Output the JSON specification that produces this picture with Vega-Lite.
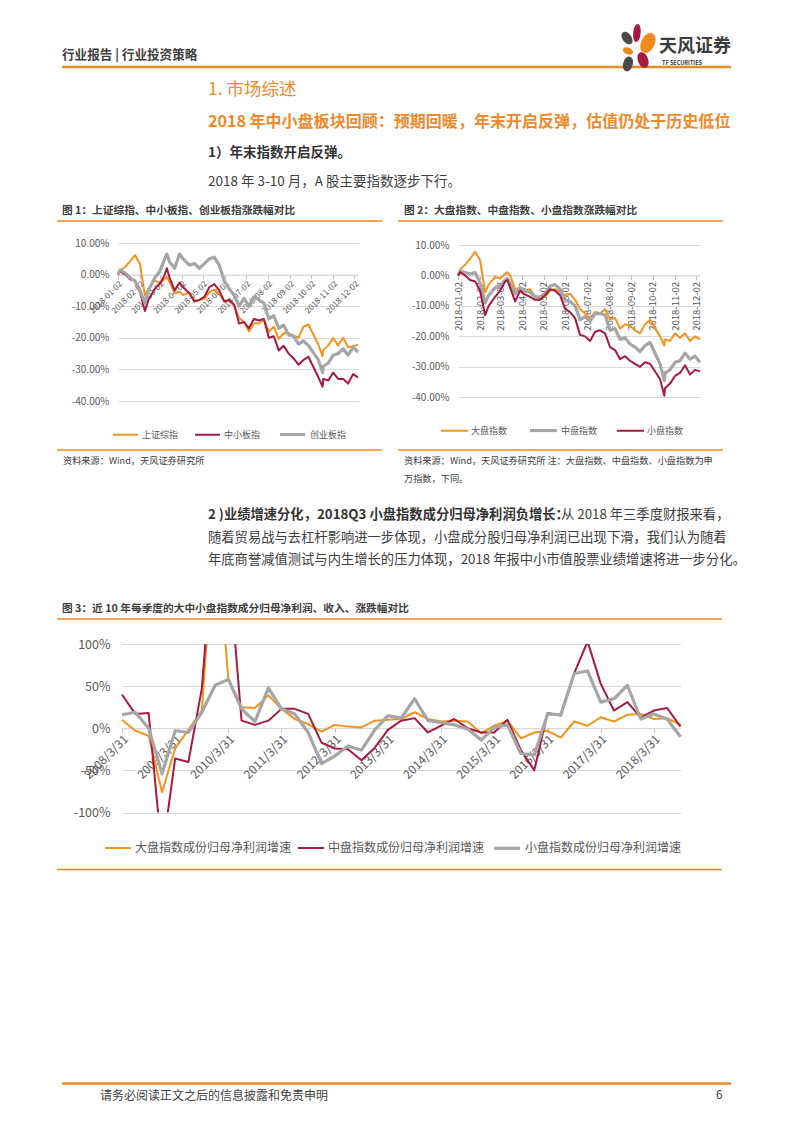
{
  "$schema": "https://vega.github.io/schema/vega-lite/v6.json",
  "padding": 0,
  "background": "#ffffff",
  "spacing": 0,
  "bounds": "flush",
  "resolve": {
    "scale": {"color": "independent", "strokeWidth": "independent"},
    "legend": {"color": "independent", "strokeWidth": "independent"}
  },
  "config": {
    "font": "Noto Sans CJK SC",
    "view": {"stroke": null},
    "axis": {"labelFont": "Noto Sans CJK SC"},
    "legend": {"labelFont": "Noto Sans CJK SC"}
  },
  "datasets": {
    "c1": [
      {"d":"2018-01-02","上证综指":0,"中小板指":0,"创业板指":0},
      {"d":"2018-01-05","上证综指":0.013,"中小板指":0.010,"创业板指":0.015},
      {"d":"2018-01-12","上证综指":0.024,"中小板指":0.000,"创业板指":0.005},
      {"d":"2018-01-19","上证综指":0.042,"中小板指":-0.015,"创业板指":-0.010},
      {"d":"2018-01-26","上证综指":0.062,"中小板指":-0.020,"创业板指":-0.020},
      {"d":"2018-02-02","上证综指":0.034,"中小板指":-0.055,"创业板指":-0.050},
      {"d":"2018-02-09","上证综指":-0.066,"中小板指":-0.115,"创业板指":-0.090},
      {"d":"2018-02-14","上证综指":-0.045,"中小板指":-0.080,"创业板指":-0.050},
      {"d":"2018-02-23","上证综指":-0.018,"中小板指":-0.045,"创业板指":-0.010},
      {"d":"2018-03-02","上证综指":-0.028,"中小板指":-0.030,"创业板指":0.010},
      {"d":"2018-03-09","上证综指":-0.013,"中小板指":0.000,"创业板指":0.050},
      {"d":"2018-03-12","上证综指":-0.007,"中小板指":0.020,"创业板指":0.065},
      {"d":"2018-03-16","上证综指":-0.024,"中小板指":-0.010,"创业板指":0.040},
      {"d":"2018-03-23","上证综指":-0.059,"中小板指":-0.050,"创业板指":0.020},
      {"d":"2018-03-30","上证综指":-0.054,"中小板指":-0.025,"创业板指":0.065},
      {"d":"2018-04-04","上证综指":-0.065,"中小板指":-0.040,"创业板指":0.050},
      {"d":"2018-04-13","上证综指":-0.057,"中小板指":-0.060,"创业板指":0.030},
      {"d":"2018-04-20","上证综指":-0.083,"中小板指":-0.085,"创业板指":0.035},
      {"d":"2018-04-27","上证综指":-0.080,"中小板指":-0.080,"创业板指":0.020},
      {"d":"2018-05-04","上证综指":-0.077,"中小板指":-0.070,"创业板指":0.035},
      {"d":"2018-05-11","上证综指":-0.056,"中小板指":-0.040,"创业板指":0.050},
      {"d":"2018-05-18","上证综指":-0.047,"中小板指":-0.030,"创业板指":0.055},
      {"d":"2018-05-25","上证综指":-0.062,"中小板指":-0.050,"创业板指":0.030},
      {"d":"2018-06-01","上证综指":-0.082,"中小板指":-0.085,"创业板指":-0.020},
      {"d":"2018-06-08","上证综指":-0.084,"中小板指":-0.080,"创业板指":-0.045},
      {"d":"2018-06-15","上证综指":-0.098,"中小板指":-0.095,"创业板指":-0.065},
      {"d":"2018-06-22","上证综指":-0.137,"中小板指":-0.155,"创业板指":-0.100},
      {"d":"2018-06-29","上证综指":-0.150,"中小板指":-0.150,"创业板指":-0.075},
      {"d":"2018-07-06","上证综指":-0.180,"中小板指":-0.170,"创业板指":-0.100},
      {"d":"2018-07-13","上证综指":-0.155,"中小板指":-0.140,"创业板指":-0.070},
      {"d":"2018-07-20","上证综指":-0.155,"中小板指":-0.145,"创业板指":-0.080},
      {"d":"2018-07-27","上证综指":-0.142,"中小板指":-0.140,"创业板指":-0.090},
      {"d":"2018-08-03","上证综指":-0.182,"中小板指":-0.200,"创业板指":-0.140},
      {"d":"2018-08-10","上证综指":-0.165,"中小板指":-0.195,"创业板指":-0.130},
      {"d":"2018-08-17","上证综指":-0.203,"中小板指":-0.240,"创业板指":-0.170},
      {"d":"2018-08-24","上证综指":-0.185,"中小板指":-0.225,"创业板指":-0.160},
      {"d":"2018-08-31","上证综指":-0.186,"中小板指":-0.250,"创业板指":-0.190},
      {"d":"2018-09-07","上证综指":-0.193,"中小板指":-0.265,"创业板指":-0.195},
      {"d":"2018-09-14","上证综指":-0.199,"中小板指":-0.285,"创业板指":-0.220},
      {"d":"2018-09-21","上证综指":-0.165,"中小板指":-0.270,"创业板指":-0.210},
      {"d":"2018-09-28","上证综指":-0.158,"中小板指":-0.260,"创业板指":-0.225},
      {"d":"2018-10-12","上证综指":-0.222,"中小板指":-0.325,"创业板指":-0.270},
      {"d":"2018-10-18","上证综指":-0.258,"中小板指":-0.355,"创业板指":-0.310},
      {"d":"2018-10-19","上证综指":-0.239,"中小板指":-0.330,"创业板指":-0.290},
      {"d":"2018-10-26","上证综指":-0.224,"中小板指":-0.335,"创业板指":-0.280},
      {"d":"2018-11-02","上证综指":-0.201,"中小板指":-0.310,"创业板指":-0.255},
      {"d":"2018-11-09","上证综指":-0.224,"中小板指":-0.330,"创业板指":-0.250},
      {"d":"2018-11-16","上证综指":-0.200,"中小板指":-0.330,"创业板指":-0.235},
      {"d":"2018-11-23","上证综指":-0.230,"中小板指":-0.345,"创业板指":-0.255},
      {"d":"2018-11-30","上证综指":-0.227,"中小板指":-0.315,"创业板指":-0.230},
      {"d":"2018-12-07","上证综指":-0.222,"中小板指":-0.325,"创业板指":-0.245}
    ],
    "c2": [
      {"d":"2018-01-02","大盘指数":0,"中盘指数":0,"小盘指数":0},
      {"d":"2018-01-05","大盘指数":0.020,"中盘指数":0.015,"小盘指数":0.010},
      {"d":"2018-01-12","大盘指数":0.035,"中盘指数":0.010,"小盘指数":0.000},
      {"d":"2018-01-19","大盘指数":0.055,"中盘指数":0.005,"小盘指数":-0.015},
      {"d":"2018-01-26","大盘指数":0.078,"中盘指数":0.010,"小盘指数":-0.020},
      {"d":"2018-02-02","大盘指数":0.050,"中盘指数":-0.025,"小盘指数":-0.050},
      {"d":"2018-02-09","大盘指数":-0.055,"中盘指数":-0.090,"小盘指数":-0.130},
      {"d":"2018-02-14","大盘指数":-0.030,"中盘指数":-0.065,"小盘指数":-0.100},
      {"d":"2018-02-23","大盘指数":-0.005,"中盘指数":-0.040,"小盘指数":-0.070},
      {"d":"2018-03-02","大盘指数":-0.010,"中盘指数":-0.035,"小盘指数":-0.050},
      {"d":"2018-03-09","大盘指数":0.005,"中盘指数":-0.015,"小盘指数":-0.020},
      {"d":"2018-03-12","大盘指数":0.010,"中盘指数":-0.010,"小盘指数":-0.015},
      {"d":"2018-03-16","大盘指数":0.000,"中盘指数":-0.025,"小盘指数":-0.040},
      {"d":"2018-03-23","大盘指数":-0.045,"中盘指数":-0.060,"小盘指数":-0.085},
      {"d":"2018-03-30","大盘指数":-0.040,"中盘指数":-0.040,"小盘指数":-0.050},
      {"d":"2018-04-04","大盘指数":-0.050,"中盘指数":-0.050,"小盘指数":-0.060},
      {"d":"2018-04-13","大盘指数":-0.045,"中盘指数":-0.055,"小盘指数":-0.070},
      {"d":"2018-04-20","大盘指数":-0.070,"中盘指数":-0.070,"小盘指数":-0.080},
      {"d":"2018-04-27","大盘指数":-0.075,"中盘指数":-0.070,"小盘指数":-0.080},
      {"d":"2018-05-04","大盘指数":-0.070,"中盘指数":-0.060,"小盘指数":-0.065},
      {"d":"2018-05-11","大盘指数":-0.050,"中盘指数":-0.035,"小盘指数":-0.045},
      {"d":"2018-05-18","大盘指数":-0.045,"中盘指数":-0.030,"小盘指数":-0.050},
      {"d":"2018-05-25","大盘指数":-0.055,"中盘指数":-0.045,"小盘指数":-0.065},
      {"d":"2018-06-01","大盘指数":-0.065,"中盘指数":-0.080,"小盘指数":-0.110},
      {"d":"2018-06-08","大盘指数":-0.060,"中盘指数":-0.085,"小盘指数":-0.120},
      {"d":"2018-06-15","大盘指数":-0.080,"中盘指数":-0.100,"小盘指数":-0.140},
      {"d":"2018-06-22","大盘指数":-0.110,"中盘指数":-0.145,"小盘指数":-0.195},
      {"d":"2018-06-29","大盘指数":-0.125,"中盘指数":-0.135,"小盘指数":-0.200},
      {"d":"2018-07-06","大盘指数":-0.140,"中盘指数":-0.150,"小盘指数":-0.215},
      {"d":"2018-07-13","大盘指数":-0.120,"中盘指数":-0.125,"小盘指数":-0.185},
      {"d":"2018-07-20","大盘指数":-0.125,"中盘指数":-0.125,"小盘指数":-0.180},
      {"d":"2018-07-27","大盘指数":-0.110,"中盘指数":-0.130,"小盘指数":-0.190},
      {"d":"2018-08-03","大盘指数":-0.145,"中盘指数":-0.180,"小盘指数":-0.235},
      {"d":"2018-08-10","大盘指数":-0.140,"中盘指数":-0.175,"小盘指数":-0.245},
      {"d":"2018-08-17","大盘指数":-0.175,"中盘指数":-0.210,"小盘指数":-0.275},
      {"d":"2018-08-24","大盘指数":-0.160,"中盘指数":-0.205,"小盘指数":-0.265},
      {"d":"2018-08-31","大盘指数":-0.165,"中盘指数":-0.225,"小盘指数":-0.280},
      {"d":"2018-09-07","大盘指数":-0.180,"中盘指数":-0.235,"小盘指数":-0.290},
      {"d":"2018-09-14","大盘指数":-0.190,"中盘指数":-0.250,"小盘指数":-0.300},
      {"d":"2018-09-21","大盘指数":-0.160,"中盘指数":-0.230,"小盘指数":-0.285},
      {"d":"2018-09-28","大盘指数":-0.145,"中盘指数":-0.220,"小盘指数":-0.290},
      {"d":"2018-10-12","大盘指数":-0.200,"中盘指数":-0.290,"小盘指数":-0.340},
      {"d":"2018-10-18","大盘指数":-0.230,"中盘指数":-0.345,"小盘指数":-0.395},
      {"d":"2018-10-19","大盘指数":-0.210,"中盘指数":-0.320,"小盘指数":-0.370},
      {"d":"2018-10-26","大盘指数":-0.215,"中盘指数":-0.310,"小盘指数":-0.355},
      {"d":"2018-11-02","大盘指数":-0.190,"中盘指数":-0.285,"小盘指数":-0.330},
      {"d":"2018-11-09","大盘指数":-0.205,"中盘指数":-0.280,"小盘指数":-0.320},
      {"d":"2018-11-16","大盘指数":-0.190,"中盘指数":-0.255,"小盘指数":-0.295},
      {"d":"2018-11-23","大盘指数":-0.215,"中盘指数":-0.275,"小盘指数":-0.325},
      {"d":"2018-11-30","大盘指数":-0.200,"中盘指数":-0.265,"小盘指数":-0.310},
      {"d":"2018-12-07","大盘指数":-0.210,"中盘指数":-0.285,"小盘指数":-0.315}
    ],
    "c3": [
      {"d":"2008-03-31","大盘指数成份归母净利润增速":0.10,"中盘指数成份归母净利润增速":0.40,"小盘指数成份归母净利润增速":0.16},
      {"d":"2008-06-30","大盘指数成份归母净利润增速":-0.03,"中盘指数成份归母净利润增速":0.17,"小盘指数成份归母净利润增速":0.19},
      {"d":"2008-09-30","大盘指数成份归母净利润增速":-0.09,"中盘指数成份归母净利润增速":0.18,"小盘指数成份归母净利润增速":0.00},
      {"d":"2008-12-31","大盘指数成份归母净利润增速":-0.76,"中盘指数成份归母净利润增速":-1.50,"小盘指数成份归母净利润增速":-0.54},
      {"d":"2009-03-31","大盘指数成份归母净利润增速":-0.24,"中盘指数成份归母净利润增速":-0.36,"小盘指数成份归母净利润增速":-0.03},
      {"d":"2009-06-30","大盘指数成份归母净利润增速":-0.02,"中盘指数成份归母净利润增速":-0.40,"小盘指数成份归母净利润增速":-0.05},
      {"d":"2009-09-30","大盘指数成份归母净利润增速":0.21,"中盘指数成份归母净利润增速":0.47,"小盘指数成份归母净利润增速":0.19},
      {"d":"2009-12-31","大盘指数成份归母净利润增速":2.50,"中盘指数成份归母净利润增速":2.50,"小盘指数成份归母净利润增速":0.51},
      {"d":"2010-03-31","大盘指数成份归母净利润增速":0.59,"中盘指数成份归母净利润增速":2.00,"小盘指数成份归母净利润增速":0.58},
      {"d":"2010-06-30","大盘指数成份归母净利润增速":0.25,"中盘指数成份归母净利润增速":0.09,"小盘指数成份归母净利润增速":0.23},
      {"d":"2010-09-30","大盘指数成份归母净利润增速":0.24,"中盘指数成份归母净利润增速":0.04,"小盘指数成份归母净利润增速":0.08},
      {"d":"2010-12-31","大盘指数成份归母净利润增速":0.39,"中盘指数成份归母净利润增速":0.09,"小盘指数成份归母净利润增速":0.48},
      {"d":"2011-03-31","大盘指数成份归母净利润增速":0.23,"中盘指数成份归母净利润增速":0.23,"小盘指数成份归母净利润增速":0.23},
      {"d":"2011-06-30","大盘指数成份归母净利润增速":0.11,"中盘指数成份归母净利润增速":0.23,"小盘指数成份归母净利润增速":0.17},
      {"d":"2011-09-30","大盘指数成份归母净利润增速":0.05,"中盘指数成份归母净利润增速":0.17,"小盘指数成份归母净利润增速":-0.05},
      {"d":"2011-12-31","大盘指数成份归母净利润增速":-0.04,"中盘指数成份归母净利润增速":-0.17,"小盘指数成份归母净利润增速":-0.42},
      {"d":"2012-03-31","大盘指数成份归母净利润增速":0.04,"中盘指数成份归母净利润增速":-0.24,"小盘指数成份归母净利润增速":-0.33},
      {"d":"2012-06-30","大盘指数成份归母净利润增速":0.02,"中盘指数成份归母净利润增速":-0.25,"小盘指数成份归母净利润增速":-0.21},
      {"d":"2012-09-30","大盘指数成份归母净利润增速":0.01,"中盘指数成份归母净利润增速":-0.38,"小盘指数成份归母净利润增速":-0.26},
      {"d":"2012-12-31","大盘指数成份归母净利润增速":0.09,"中盘指数成份归母净利润增速":-0.23,"小盘指数成份归母净利润增速":-0.02},
      {"d":"2013-03-31","大盘指数成份归母净利润增速":0.10,"中盘指数成份归母净利润增速":-0.02,"小盘指数成份归母净利润增速":0.15},
      {"d":"2013-06-30","大盘指数成份归母净利润增速":0.11,"中盘指数成份归母净利润增速":0.09,"小盘指数成份归母净利润增速":0.12},
      {"d":"2013-09-30","大盘指数成份归母净利润增速":0.19,"中盘指数成份归母净利润增速":0.12,"小盘指数成份归母净利润增速":0.35},
      {"d":"2013-12-31","大盘指数成份归母净利润增速":0.11,"中盘指数成份归母净利润增速":-0.05,"小盘指数成份归母净利润增速":0.09},
      {"d":"2014-03-31","大盘指数成份归母净利润增速":0.08,"中盘指数成份归母净利润增速":0.03,"小盘指数成份归母净利润增速":0.07},
      {"d":"2014-06-30","大盘指数成份归母净利润增速":0.09,"中盘指数成份归母净利润增速":0.11,"小盘指数成份归母净利润增速":0.04},
      {"d":"2014-09-30","大盘指数成份归母净利润增速":0.08,"中盘指数成份归母净利润增速":0.00,"小盘指数成份归母净利润增速":-0.01},
      {"d":"2014-12-31","大盘指数成份归母净利润增速":-0.06,"中盘指数成份归母净利润增速":-0.05,"小盘指数成份归母净利润增速":-0.14},
      {"d":"2015-03-31","大盘指数成份归母净利润增速":0.03,"中盘指数成份归母净利润增速":-0.05,"小盘指数成份归母净利润增速":0.01},
      {"d":"2015-06-30","大盘指数成份归母净利润增速":0.09,"中盘指数成份归母净利润增速":0.10,"小盘指数成份归母净利润增速":0.04},
      {"d":"2015-09-30","大盘指数成份归母净利润增速":-0.12,"中盘指数成份归母净利润增速":-0.26,"小盘指数成份归母净利润增速":-0.30},
      {"d":"2015-12-31","大盘指数成份归母净利润增速":-0.05,"中盘指数成份归母净利润增速":-0.50,"小盘指数成份归母净利润增速":-0.32},
      {"d":"2016-03-31","大盘指数成份归母净利润增速":-0.03,"中盘指数成份归母净利润增速":0.18,"小盘指数成份归母净利润增速":0.17},
      {"d":"2016-06-30","大盘指数成份归母净利润增速":-0.11,"中盘指数成份归母净利润增速":0.15,"小盘指数成份归母净利润增速":0.16},
      {"d":"2016-09-30","大盘指数成份归母净利润增速":0.08,"中盘指数成份归母净利润增速":0.65,"小盘指数成份归母净利润增速":0.65},
      {"d":"2016-12-31","大盘指数成份归母净利润增速":0.03,"中盘指数成份归母净利润增速":1.03,"小盘指数成份归母净利润增速":0.68},
      {"d":"2017-03-31","大盘指数成份归母净利润增速":0.13,"中盘指数成份归母净利润增速":0.53,"小盘指数成份归母净利润增速":0.31},
      {"d":"2017-06-30","大盘指数成份归母净利润增速":0.08,"中盘指数成份归母净利润增速":0.21,"小盘指数成份归母净利润增速":0.35},
      {"d":"2017-09-30","大盘指数成份归母净利润增速":0.16,"中盘指数成份归母净利润增速":0.31,"小盘指数成份归母净利润增速":0.51},
      {"d":"2017-12-31","大盘指数成份归母净利润增速":0.17,"中盘指数成份归母净利润增速":0.13,"小盘指数成份归母净利润增速":0.11},
      {"d":"2018-03-31","大盘指数成份归母净利润增速":0.11,"中盘指数成份归母净利润增速":0.21,"小盘指数成份归母净利润增速":0.17},
      {"d":"2018-06-30","大盘指数成份归母净利润增速":0.12,"中盘指数成份归母净利润增速":0.24,"小盘指数成份归母净利润增速":0.11},
      {"d":"2018-09-30","大盘指数成份归母净利润增速":0.04,"中盘指数成份归母净利润增速":0.02,"小盘指数成份归母净利润增速":-0.10}
    ]
  },
  "vconcat": [
    {
      "width": 793, "height": 243,
      "data": {"values": [{}]},
      "layer": [
        {"mark": {"type": "text", "x": 62, "y": 55, "text": "行业报告 | 行业投资策略", "align": "left", "baseline": "middle", "fontSize": 12.6, "fontWeight": "bold", "color": "#404040"}, "encoding": {}},
        {"mark": {"type": "rule", "color": "#EE8A1F", "strokeWidth": 2.5}, "encoding": {"x": {"value": 62}, "x2": {"value": 731}, "y": {"value": 67}}},
        {"mark": {"type": "point", "x": 627, "y": 38, "shape": "M0,-1C0.85,-1 0.85,1 0,1C-0.85,1 -0.85,-1 0,-1Z", "filled": true, "opacity": 1, "color": "#4A4A4A", "size": 196, "angle": -35}, "encoding": {}},
        {"mark": {"type": "point", "x": 637, "y": 33, "shape": "M0,-1C0.55,-1 0.55,1 0,1C-0.55,1 -0.55,-1 0,-1Z", "filled": true, "opacity": 1, "color": "#A51C3F", "size": 324, "angle": 5}, "encoding": {}},
        {"mark": {"type": "point", "x": 648, "y": 43, "shape": "M0,-1C0.85,-1 0.85,1 0,1C-0.85,1 -0.85,-1 0,-1Z", "filled": true, "opacity": 1, "color": "#F08A1E", "size": 440, "angle": 25}, "encoding": {}},
        {"mark": {"type": "point", "x": 628, "y": 51, "shape": "M0,-1C0.85,-1 0.85,1 0,1C-0.85,1 -0.85,-1 0,-1Z", "filled": true, "opacity": 1, "color": "#F08A1E", "size": 110, "angle": -70}, "encoding": {}},
        {"mark": {"type": "point", "x": 643, "y": 60, "shape": "M0,-1C0.85,-1 0.85,1 0,1C-0.85,1 -0.85,-1 0,-1Z", "filled": true, "opacity": 1, "color": "#A51C3F", "size": 256, "angle": -20}, "encoding": {}},
        {"mark": {"type": "point", "x": 628, "y": 64, "shape": "M0,-1C0.85,-1 0.85,1 0,1C-0.85,1 -0.85,-1 0,-1Z", "filled": true, "opacity": 1, "color": "#4A4A4A", "size": 225, "angle": 15}, "encoding": {}},
        {"mark": {"type": "text", "x": 659, "y": 47, "text": "天风证券", "align": "left", "baseline": "middle", "fontSize": 18, "fontWeight": "bold", "color": "#3C3C3C"}, "encoding": {}},
        {"mark": {"type": "text", "x": 662, "y": 62.5, "text": "TF SECURITIES", "align": "left", "baseline": "middle", "fontSize": 5.5, "fontWeight": "bold", "color": "#3C3C3C"}, "encoding": {}},
        {"mark": {"type": "text", "x": 208, "y": 90, "text": "1. 市场综述", "align": "left", "baseline": "middle", "fontSize": 17.5, "color": "#F0892B"}, "encoding": {}},
        {"mark": {"type": "text", "x": 208, "y": 122, "text": "2018 年中小盘板块回顾：预期回暖，年末开启反弹，估值仍处于历史低位", "align": "left", "baseline": "middle", "fontSize": 16.05, "fontWeight": "bold", "color": "#F0892B"}, "encoding": {}},
        {"mark": {"type": "text", "x": 208, "y": 153, "text": "1）年末指数开启反弹。", "align": "left", "baseline": "middle", "fontSize": 13.5, "fontWeight": "bold", "color": "#333333"}, "encoding": {}},
        {"mark": {"type": "text", "x": 208, "y": 182, "text": "2018 年 3-10 月，A 股主要指数逐步下行。", "align": "left", "baseline": "middle", "fontSize": 13.5, "color": "#404040"}, "encoding": {}},
        {"mark": {"type": "text", "x": 62, "y": 211, "text": "图 1：上证综指、中小板指、创业板指涨跌幅对比", "align": "left", "baseline": "middle", "fontSize": 10.7, "fontWeight": "bold", "color": "#404040"}, "encoding": {}},
        {"mark": {"type": "text", "x": 404, "y": 211, "text": "图 2：大盘指数、中盘指数、小盘指数涨跌幅对比", "align": "left", "baseline": "middle", "fontSize": 10.7, "fontWeight": "bold", "color": "#404040"}, "encoding": {}},
        {"mark": {"type": "rule", "color": "#EE8A1F", "strokeWidth": 1.5}, "encoding": {"x": {"value": 57}, "x2": {"value": 382}, "y": {"value": 221}}},
        {"mark": {"type": "rule", "color": "#EE8A1F", "strokeWidth": 1.5}, "encoding": {"x": {"value": 398}, "x2": {"value": 723}, "y": {"value": 221}}}
      ]
    },
    {
      "width": 793, "height": 158,
      "resolve": {
        "scale": {"x": "independent", "y": "independent", "color": "independent", "strokeWidth": "independent"},
        "axis": {"x": "independent", "y": "independent"},
        "legend": {"color": "independent", "strokeWidth": "independent"}
      },
      "layer": [
        {
          "data": {"name": "c1"},
          "transform": [{"fold": ["上证综指", "中小板指", "创业板指"], "as": ["s", "v"]}],
          "mark": {"type": "line", "strokeJoin": "round"},
          "encoding": {
            "x": {"field": "d", "type": "temporal",
              "scale": {"type": "utc", "range": [118, 358], "domain": [{"year": 2018, "month": 1, "date": 2, "utc": true}, {"year": 2018, "month": 12, "date": 7, "utc": true}]},
              "axis": {"orient": "bottom", "title": null, "format": "%Y-%m-%d", "labelAngle": -45, "labelFontSize": 8.2, "labelColor": "#595959", "labelPadding": 1, "labelOverlap": false, "labelFlush": false, "offset": -126.4, "grid": false, "domain": true, "domainColor": "#D9D9D9", "ticks": true, "tickColor": "#BFBFBF", "tickSize": 4,
                "values": [{"year":2018,"month":1,"date":2,"utc":true},{"year":2018,"month":2,"date":2,"utc":true},{"year":2018,"month":3,"date":2,"utc":true},{"year":2018,"month":4,"date":2,"utc":true},{"year":2018,"month":5,"date":2,"utc":true},{"year":2018,"month":6,"date":2,"utc":true},{"year":2018,"month":7,"date":2,"utc":true},{"year":2018,"month":8,"date":2,"utc":true},{"year":2018,"month":9,"date":2,"utc":true},{"year":2018,"month":10,"date":2,"utc":true},{"year":2018,"month":11,"date":2,"utc":true},{"year":2018,"month":12,"date":2,"utc":true}]}},
            "y": {"field": "v", "type": "quantitative",
              "scale": {"domain": [-0.4, 0.1], "range": [158, 0], "nice": false, "zero": false},
              "axis": {"orient": "left", "offset": -118, "title": null, "values": [-0.4, -0.3, -0.2, -0.1, 0, 0.1], "labelExpr": "replace(format(datum.value, '.2%'), '\u2212', '-')", "labelFontSize": 10, "labelColor": "#595959", "labelPadding": 9, "domain": false, "ticks": false, "grid": true, "gridColor": "#D9D9D9"}},
            "color": {"field": "s", "type": "nominal",
              "scale": {"domain": ["上证综指", "中小板指", "创业板指"], "range": ["#F39320", "#A51A3E", "#A6A6A6"]},
              "legend": {"orient": "none", "legendX": 112, "legendY": 177, "direction": "horizontal", "title": null, "symbolType": "stroke", "symbolSize": 625, "labelFontSize": 9, "labelColor": "#595959", "columnPadding": 12, "labelOffset": 3, "padding": 0}},
            "strokeWidth": {"field": "s", "type": "nominal",
              "scale": {"type": "ordinal", "domain": ["上证综指", "中小板指", "创业板指"], "range": [2, 2, 3.2]},
              "legend": {"orient": "none", "legendX": 112, "legendY": 177, "direction": "horizontal", "title": null, "symbolType": "stroke", "symbolSize": 625, "labelFontSize": 9, "labelColor": "#595959", "columnPadding": 12, "labelOffset": 3, "padding": 0}}
          }
        },
        {
          "data": {"name": "c2"},
          "transform": [{"fold": ["大盘指数", "中盘指数", "小盘指数"], "as": ["s", "v"]}],
          "mark": {"type": "line", "strokeJoin": "round"},
          "encoding": {
            "x": {"field": "d", "type": "temporal",
              "scale": {"type": "utc", "range": [458, 700], "domain": [{"year": 2018, "month": 1, "date": 2, "utc": true}, {"year": 2018, "month": 12, "date": 7, "utc": true}]},
              "axis": {"orient": "bottom", "title": null, "format": "%Y-%m-%d", "labelAngle": -90, "labelFontSize": 9.5, "labelColor": "#595959", "labelPadding": 2, "labelOverlap": false, "labelFlush": false, "offset": -125.54, "grid": false, "domain": true, "domainColor": "#D9D9D9", "ticks": true, "tickColor": "#BFBFBF", "tickSize": 4,
                "values": [{"year":2018,"month":1,"date":2,"utc":true},{"year":2018,"month":2,"date":2,"utc":true},{"year":2018,"month":3,"date":2,"utc":true},{"year":2018,"month":4,"date":2,"utc":true},{"year":2018,"month":5,"date":2,"utc":true},{"year":2018,"month":6,"date":2,"utc":true},{"year":2018,"month":7,"date":2,"utc":true},{"year":2018,"month":8,"date":2,"utc":true},{"year":2018,"month":9,"date":2,"utc":true},{"year":2018,"month":10,"date":2,"utc":true},{"year":2018,"month":11,"date":2,"utc":true},{"year":2018,"month":12,"date":2,"utc":true}]}},
            "y": {"field": "v", "type": "quantitative",
              "scale": {"domain": [-0.4, 0.1], "range": [154.3, 2], "nice": false, "zero": false},
              "axis": {"orient": "left", "offset": -458, "title": null, "values": [-0.4, -0.3, -0.2, -0.1, 0, 0.1], "labelExpr": "replace(format(datum.value, '.2%'), '\u2212', '-')", "labelFontSize": 10, "labelColor": "#595959", "labelPadding": 9, "domain": false, "ticks": false, "grid": true, "gridColor": "#D9D9D9"}},
            "color": {"field": "s", "type": "nominal",
              "scale": {"domain": ["大盘指数", "中盘指数", "小盘指数"], "range": ["#F39320", "#A6A6A6", "#A51A3E"]},
              "legend": {"orient": "none", "legendX": 440, "legendY": 172, "direction": "horizontal", "title": null, "symbolType": "stroke", "symbolSize": 729, "labelFontSize": 9, "labelColor": "#595959", "columnPadding": 15, "labelOffset": 2, "padding": 0}},
            "strokeWidth": {"field": "s", "type": "nominal",
              "scale": {"type": "ordinal", "domain": ["大盘指数", "中盘指数", "小盘指数"], "range": [2, 3.2, 2]},
              "legend": {"orient": "none", "legendX": 440, "legendY": 172, "direction": "horizontal", "title": null, "symbolType": "stroke", "symbolSize": 729, "labelFontSize": 9, "labelColor": "#595959", "columnPadding": 15, "labelOffset": 2, "padding": 0}}
          }
        }
      ]
    },
    {
      "width": 793, "height": 243,
      "data": {"values": [{}]},
      "layer": [
        {"mark": {"type": "rule", "color": "#EE8A1F", "strokeWidth": 1.5}, "encoding": {"x": {"value": 57}, "x2": {"value": 382}, "y": {"value": 49}}},
        {"mark": {"type": "rule", "color": "#EE8A1F", "strokeWidth": 1.5}, "encoding": {"x": {"value": 398}, "x2": {"value": 723}, "y": {"value": 49}}},
        {"mark": {"type": "text", "x": 63, "y": 60, "text": "资料来源：Wind，天风证券研究所", "align": "left", "baseline": "middle", "fontSize": 9.2, "color": "#404040"}, "encoding": {}},
        {"mark": {"type": "text", "x": 404, "y": 60, "text": "资料来源：Wind，天风证券研究所  注：大盘指数、中盘指数、小盘指数为申", "align": "left", "baseline": "middle", "fontSize": 9.2, "color": "#404040"}, "encoding": {}},
        {"mark": {"type": "text", "x": 404, "y": 78, "text": "万指数，下同。", "align": "left", "baseline": "middle", "fontSize": 9.2, "color": "#404040"}, "encoding": {}},
        {"mark": {"type": "text", "x": 208, "y": 114, "text": "2 )业绩增速分化，2018Q3 小盘指数成分归母净利润负增长：", "align": "left", "baseline": "middle", "fontSize": 13.3, "fontWeight": "bold", "color": "#333333"}, "encoding": {}},
        {"mark": {"type": "text", "x": 561, "y": 114, "text": "从 2018 年三季度财报来看，", "align": "left", "baseline": "middle", "fontSize": 13.3, "color": "#404040"}, "encoding": {}},
        {"mark": {"type": "text", "x": 208, "y": 136.5, "text": "随着贸易战与去杠杆影响进一步体现，小盘成分股归母净利润已出现下滑，我们认为随着", "align": "left", "baseline": "middle", "fontSize": 13.3, "color": "#404040"}, "encoding": {}},
        {"mark": {"type": "text", "x": 208, "y": 159, "text": "年底商誉减值测试与内生增长的压力体现，2018 年报中小市值股票业绩增速将进一步分化。", "align": "left", "baseline": "middle", "fontSize": 13.3, "color": "#404040"}, "encoding": {}},
        {"mark": {"type": "text", "x": 62, "y": 208, "text": "图 3：近 10 年每季度的大中小盘指数成分归母净利润、收入、涨跌幅对比", "align": "left", "baseline": "middle", "fontSize": 10.7, "fontWeight": "bold", "color": "#404040"}, "encoding": {}},
        {"mark": {"type": "rule", "color": "#EE8A1F", "strokeWidth": 1.5}, "encoding": {"x": {"value": 57}, "x2": {"value": 722}, "y": {"value": 218}}}
      ]
    },
    {
      "width": 793, "height": 168.5,
      "data": {"name": "c3"},
      "transform": [{"fold": ["大盘指数成份归母净利润增速", "中盘指数成份归母净利润增速", "小盘指数成份归母净利润增速"], "as": ["s", "v"]}],
      "mark": {"type": "line", "strokeJoin": "round", "clip": true},
      "encoding": {
        "x": {"field": "d", "type": "temporal",
          "scale": {"type": "utc", "range": [122, 680.5], "domain": [{"year": 2008, "month": 3, "date": 31, "utc": true}, {"year": 2018, "month": 9, "date": 30, "utc": true}]},
          "axis": {"orient": "bottom", "title": null, "format": "%Y/%-m/%-d", "labelAngle": -45, "labelFontSize": 12, "labelColor": "#595959", "labelPadding": 1, "labelOverlap": false, "labelFlush": false, "offset": -84.25, "grid": false, "domain": true, "domainColor": "#D9D9D9", "ticks": true, "tickColor": "#BFBFBF", "tickSize": 4,
            "values": [{"year":2008,"month":3,"date":31,"utc":true},{"year":2009,"month":3,"date":31,"utc":true},{"year":2010,"month":3,"date":31,"utc":true},{"year":2011,"month":3,"date":31,"utc":true},{"year":2012,"month":3,"date":31,"utc":true},{"year":2013,"month":3,"date":31,"utc":true},{"year":2014,"month":3,"date":31,"utc":true},{"year":2015,"month":3,"date":31,"utc":true},{"year":2016,"month":3,"date":31,"utc":true},{"year":2017,"month":3,"date":31,"utc":true},{"year":2018,"month":3,"date":31,"utc":true}]}},
        "y": {"field": "v", "type": "quantitative",
          "scale": {"domain": [-1, 1], "nice": false, "zero": false},
          "axis": {"orient": "left", "offset": -122, "title": null, "values": [-1, -0.5, 0, 0.5, 1], "labelExpr": "replace(format(datum.value, '.0%'), '\u2212', '-')", "labelFontSize": 12.5, "labelColor": "#595959", "labelPadding": 12, "domain": false, "ticks": false, "grid": true, "gridColor": "#D9D9D9"}},
        "color": {"field": "s", "type": "nominal",
          "scale": {"domain": ["大盘指数成份归母净利润增速", "中盘指数成份归母净利润增速", "小盘指数成份归母净利润增速"], "range": ["#F39320", "#A51A3E", "#A6A6A6"]},
          "legend": {"orient": "none", "legendX": 104, "legendY": 189, "direction": "horizontal", "title": null, "symbolType": "stroke", "symbolSize": 676, "labelFontSize": 12, "labelColor": "#595959", "columnPadding": 2, "labelOffset": 3, "padding": 0, "labelLimit": 400}},
        "strokeWidth": {"field": "s", "type": "nominal",
          "scale": {"type": "ordinal", "domain": ["大盘指数成份归母净利润增速", "中盘指数成份归母净利润增速", "小盘指数成份归母净利润增速"], "range": [2, 2, 3.2]},
          "legend": {"orient": "none", "legendX": 104, "legendY": 189, "direction": "horizontal", "title": null, "symbolType": "stroke", "symbolSize": 676, "labelFontSize": 12, "labelColor": "#595959", "columnPadding": 2, "labelOffset": 3, "padding": 0, "labelLimit": 400}}
      }
    },
    {
      "width": 793, "height": 309.5,
      "data": {"values": [{}]},
      "layer": [
        {"mark": {"type": "rule", "color": "#EE8A1F", "strokeWidth": 1.5}, "encoding": {"x": {"value": 57}, "x2": {"value": 722}, "y": {"value": 56.5}}},
        {"mark": {"type": "rule", "color": "#EE8A1F", "strokeWidth": 2.5}, "encoding": {"x": {"value": 62}, "x2": {"value": 731}, "y": {"value": 270.5}}},
        {"mark": {"type": "text", "x": 100, "y": 283, "text": "请务必阅读正文之后的信息披露和免责申明", "align": "left", "baseline": "middle", "fontSize": 12, "color": "#404040"}, "encoding": {}},
        {"mark": {"type": "text", "x": 716, "y": 283, "text": "6", "align": "left", "baseline": "middle", "fontSize": 11.5, "color": "#404040"}, "encoding": {}}
      ]
    }
  ]
}
